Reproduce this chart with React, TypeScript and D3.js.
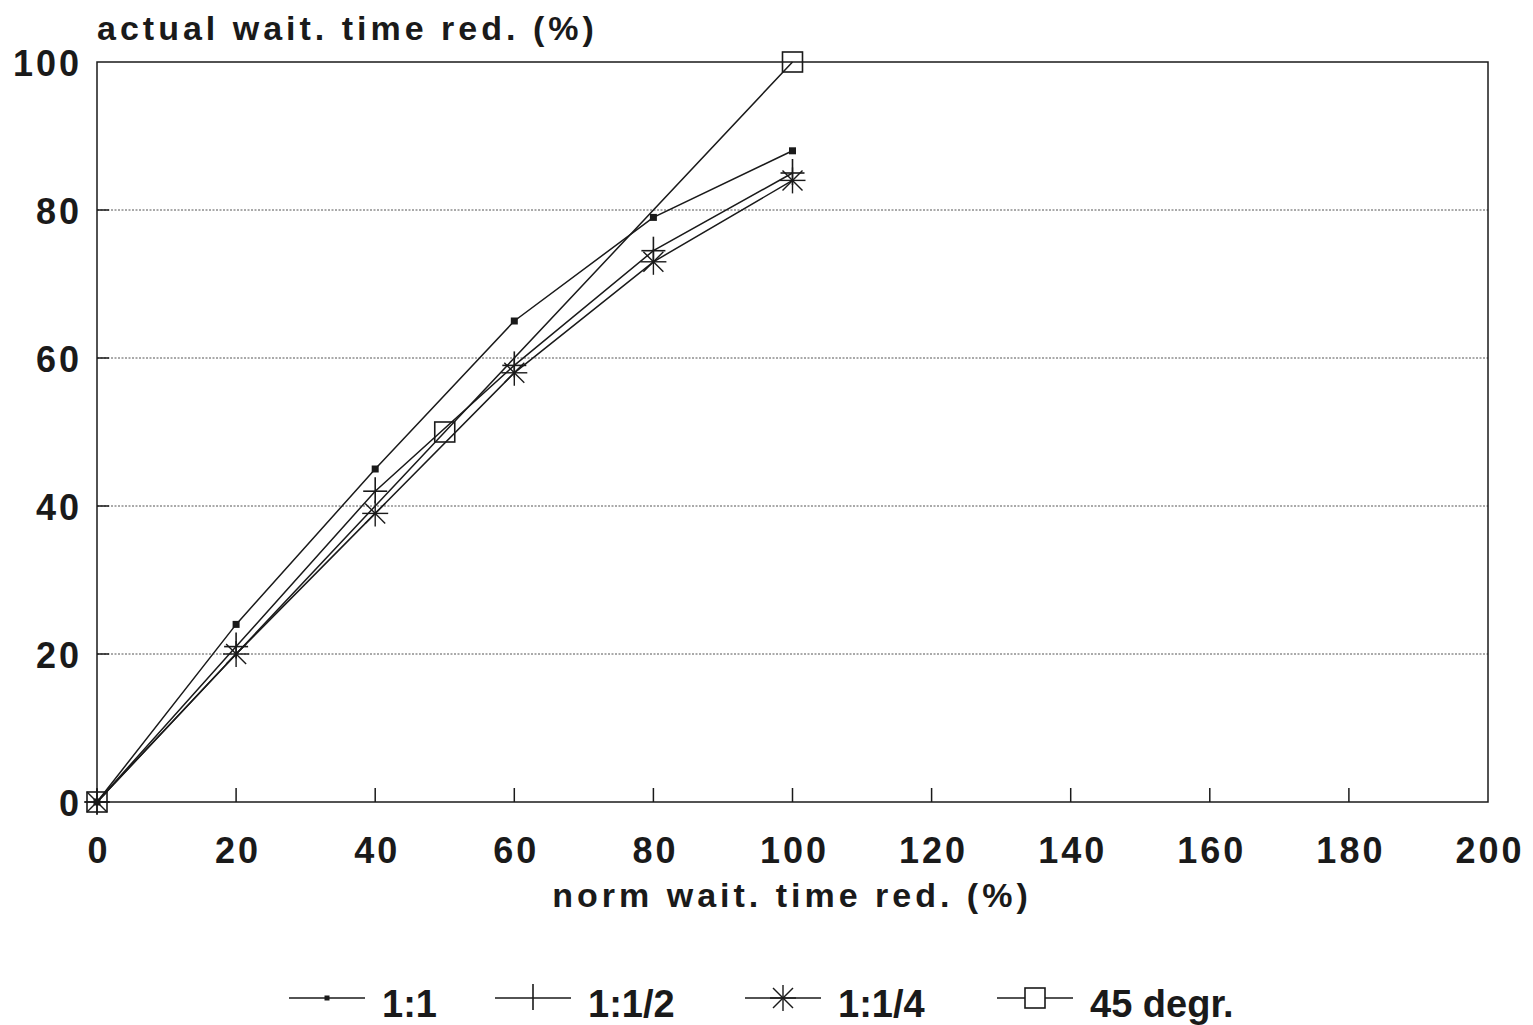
import React from 'react'
import * as d3 from 'd3'

// series
const xNorm = [0, 20, 40, 60, 80, 100]
const ratio11 = [0, 24, 45, 65, 79, 88]
const ratio12 = [0, 21, 42, 59, 74.5, 85]
const ratio14 = [0, 20, 39, 58, 73, 84]
const xDiag = [0, 50, 100]
const diag45 = [0, 50, 100]

const xTicks = [0, 20, 40, 60, 80, 100, 120, 140, 160, 180, 200]
const yTicks = [0, 20, 40, 60, 80, 100]
const legendLabels = ['1:1', '1:1/2', '1:1/4', '45 degr.']

const W = 1533
const H = 1025
const left = 97, right = 1488, top = 62, bottom = 802
const ink = '#1a1a1a'
const font = '"Liberation Sans", Arial, sans-serif'

type Pt = [number, number]

function Marker({kind, x, y, legend}: {kind: string; x: number; y: number; legend?: boolean}) {
  if (kind === 'dot') {
    const r = legend ? 2.5 : 3.5
    return <rect x={x - r} y={y - r} width={2 * r} height={2 * r} fill={ink} />
  }
  if (kind === 'plus') {
    return (
      <g stroke={ink} strokeWidth={1.6}>
        {!legend && <line x1={x - 12} x2={x + 12} y1={y} y2={y} />}
        <line x1={x} x2={x} y1={y - 14} y2={y + 12} />
      </g>
    )
  }
  if (kind === 'star') {
    return (
      <g stroke={ink} strokeWidth={1.4}>
        <line x1={x - 13} x2={x + 13} y1={y} y2={y} />
        <line x1={x} x2={x} y1={y - 13} y2={y + 13} />
        <line x1={x - 10} x2={x + 10} y1={y - 10} y2={y + 10} />
        <line x1={x - 10} x2={x + 10} y1={y + 10} y2={y - 10} />
      </g>
    )
  }
  return <rect x={x - 10} y={y - 10} width={20} height={20} fill="#fff" fillOpacity={legend ? 1 : 0}
    stroke={ink} strokeWidth={1.6} />
}

export default function App() {
  const x = d3.scaleLinear().domain([0, 200]).range([left, right])
  const y = d3.scaleLinear().domain([0, 100]).range([bottom, top])
  const line = d3.line<Pt>().x(d => x(d[0])).y(d => y(d[1]))

  const series = [
    {kind: 'dot', pts: xNorm.map((v, i) => [v, ratio11[i]] as Pt)},
    {kind: 'plus', pts: xNorm.map((v, i) => [v, ratio12[i]] as Pt)},
    {kind: 'star', pts: xNorm.map((v, i) => [v, ratio14[i]] as Pt)},
    {kind: 'square', pts: xDiag.map((v, i) => [v, diag45[i]] as Pt)},
  ]

  const legendX = [289, 495, 745, 997]
  const legendY = 998

  return (
    <svg width={W} height={H} style={{position: 'absolute', left: 0, top: 0, background: '#fff'}}
      fontFamily={font}>
      {/* dotted grid */}
      {yTicks.filter(t => t > 0 && t < 100).map(t => (
        <g key={t}>
          <line x1={left} x2={right} y1={y(t)} y2={y(t)} stroke="#555" strokeWidth={1} strokeDasharray="2,1.5" />
          <line x1={left} x2={left + 12} y1={y(t)} y2={y(t)} stroke={ink} strokeWidth={1.5} />
        </g>
      ))}
      {/* frame */}
      <rect x={left} y={top} width={right - left} height={bottom - top} fill="none" stroke={ink} strokeWidth={1.5} />
      {xTicks.filter(t => t > 0 && t < 200).map(t => (
        <line key={t} x1={x(t)} x2={x(t)} y1={bottom} y2={bottom - 14} stroke={ink} strokeWidth={1.5} />
      ))}

      {/* tick labels */}
      {yTicks.map(t => (
        <text key={t} x={left - 15} y={y(t)} dy="0.38em" textAnchor="end" fontSize={36}
          letterSpacing={3} fontWeight={700} fill={ink}>{t}</text>
      ))}
      {xTicks.map(t => (
        <text key={t} x={x(t) + 2} y={bottom + 61} textAnchor="middle" fontSize={36}
          letterSpacing={3} fontWeight={700} fill={ink}>{t}</text>
      ))}

      <text x={97} y={40} fontSize={34} letterSpacing={4} fontWeight={700} fill={ink}>
        actual wait. time red. (%)
      </text>
      <text x={792} y={907} textAnchor="middle" fontSize={34} letterSpacing={4} fontWeight={700} fill={ink}>
        norm wait. time red. (%)
      </text>

      {/* series */}
      {series.map((s, i) => (
        <g key={i}>
          <path d={line(s.pts) || ''} fill="none" stroke={ink} strokeWidth={1.5} />
          {s.pts.map((p, j) => <Marker key={j} kind={s.kind} x={x(p[0])} y={y(p[1])} />)}
        </g>
      ))}

      {/* legend */}
      {series.map((s, i) => (
        <g key={i}>
          <line x1={legendX[i]} x2={legendX[i] + 76} y1={legendY} y2={legendY} stroke={ink} strokeWidth={1.5} />
          <Marker kind={s.kind} x={legendX[i] + 38} y={legendY} legend />
          <text x={legendX[i] + 93} y={legendY + 19} fontSize={38} fill={ink}
            fontWeight={700}>{legendLabels[i]}</text>
        </g>
      ))}
    </svg>
  )
}
